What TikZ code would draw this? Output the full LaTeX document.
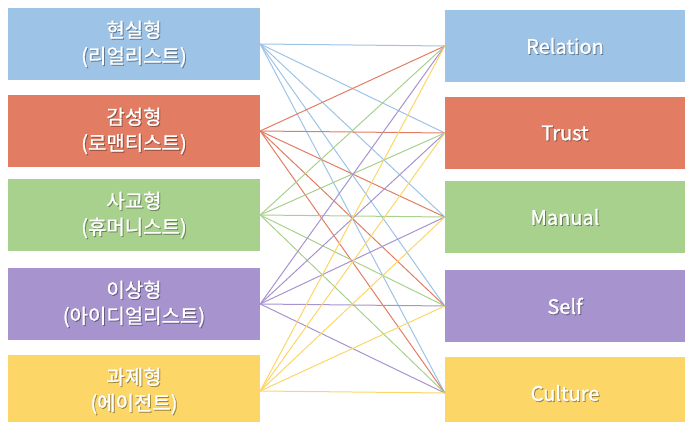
\documentclass[tikz,border=0pt]{standalone}
\usepackage{fontspec}
\setmainfont{Noto Sans CJK KR}
\newfontfamily\typefont{Noto Sans CJK KR}[FakeBold=1.2]
\usepackage{tikz}

\definecolor{typeblue}{HTML}{9DC3E6}
\definecolor{typered}{HTML}{E27D64}
\definecolor{typegreen}{HTML}{A9D18E}
\definecolor{typepurple}{HTML}{A794CF}
\definecolor{typeyellow}{HTML}{FCD667}

\begin{document}
\begin{tikzpicture}[x=1pt, y=-1pt,
    typebox/.style={rectangle, inner sep=0pt, minimum height=72pt},
    leftbox/.style={typebox, minimum width=252pt},
    rightbox/.style={typebox, minimum width=240pt},
    labeltext/.style={inner sep=0pt, align=center, text=white, font=\typefont\fontsize{20}{26}\selectfont},
    link/.style={line width=1pt}]
  \useasboundingbox (0,0) rectangle (685,422);
  \newcommand{\typebox}[5]% name, side, centre, colour, text
  {%
    \begin{scope}[shift={#3}]
      \node[#2, fill=#4] (#1) at (0, 0) {};
      \node[labeltext, text=black, opacity=0.3] (#1-shadow) at (1, 1) {#5};
      \node[labeltext] (#1-label) at (0, 0) {#5};
    \end{scope}%
  }%
  \newcommand{\typelinks}[2]
  {%
    \foreach \r in {1,...,5}
      \draw[link, #2] (#1.east) -- (r\r.west);
  }%
  % personality types
  \typebox{l1}{leftbox}{(134,  44)}{typeblue}{현실형\\(리얼리스트)}
  \typebox{l2}{leftbox}{(134, 131)}{typered}{감성형\\(로맨티스트)}
  \typebox{l3}{leftbox}{(134, 215)}{typegreen}{사교형\\(휴머니스트)}
  \typebox{l4}{leftbox}{(134, 304)}{typepurple}{이상형\\(아이디얼리스트)}
  \typebox{l5}{leftbox}{(134, 391)}{typeyellow}{과제형\\(에이전트)}
  % factors
  \typebox{r1}{rightbox}{(565,  46)}{typeblue}{Relation}
  \typebox{r2}{rightbox}{(565, 133)}{typered}{Trust}
  \typebox{r3}{rightbox}{(565, 217)}{typegreen}{Manual}
  \typebox{r4}{rightbox}{(565, 306)}{typepurple}{Self}
  \typebox{r5}{rightbox}{(565, 393)}{typeyellow}{Culture}
  % every type to every factor
  \typelinks{l1}{typeblue}
  \typelinks{l2}{typered}
  \typelinks{l3}{typegreen}
  \typelinks{l4}{typepurple}
  \typelinks{l5}{typeyellow}
\end{tikzpicture}
\end{document}
